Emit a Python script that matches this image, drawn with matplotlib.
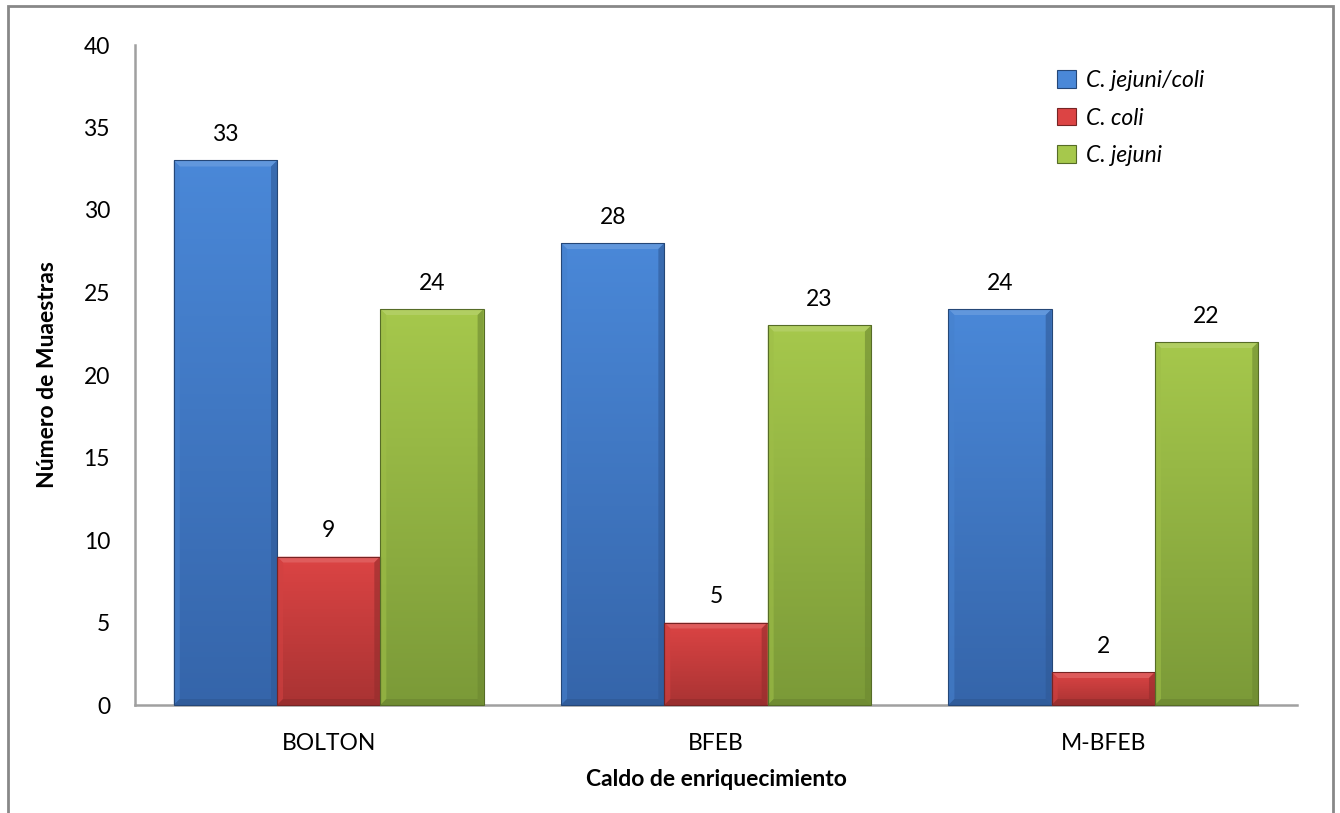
import numpy as np
import matplotlib
matplotlib.use("Agg")
import matplotlib.pyplot as plt
from matplotlib.patches import Polygon, Rectangle
from matplotlib.colors import LinearSegmentedColormap, to_rgb
from matplotlib.transforms import IdentityTransform

# Data
categories = ["BOLTON", "BFEB", "M-BFEB"]
series_names = ["C. jejuni/coli", "C. coli", "C. jejuni"]
jejuni_coli = [33, 28, 24]
coli = [9, 5, 2]
jejuni = [24, 23, 22]
y_ticks = [0, 5, 10, 15, 20, 25, 30, 35, 40]

series_values = [jejuni_coli, coli, jejuni]
# (top colour, bottom colour) for the vertical gradient of each series
series_colors = [("#4a88d8", "#3565aa"),
                 ("#dc4444", "#a93333"),
                 ("#a6c84c", "#7b9a38")]

plt.rcParams["font.family"] = ["Lato", "DejaVu Sans"]
FS = 16.5

fig = plt.figure(figsize=(13.4, 8.13), dpi=100)
ax = fig.add_axes([135 / 1340, 1 - 705 / 813, (1297 - 135) / 1340, (705 - 45) / 813])

n = len(series_values)
group_w = 0.8
bw = group_w / n
x = np.arange(len(categories))

ax.set_xlim(-0.5, len(categories) - 0.5)
ax.set_ylim(0, 40)

fig.canvas.draw()
to_px = ax.transData.transform


def shade(c, f):
    r, g, b = to_rgb(c)
    if f >= 0:
        return (r + (1 - r) * f, g + (1 - g) * f, b + (1 - b) * f)
    return (r * (1 + f), g * (1 + f), b * (1 + f))


for i, (vals, (ctop, cbot)) in enumerate(zip(series_values, series_colors)):
    offs = (i - (n - 1) / 2) * bw
    bars = ax.bar(x + offs, vals, width=bw, color=ctop, edgecolor="none",
                  label=series_names[i], zorder=2)
    cmap = LinearSegmentedColormap.from_list(f"g{i}", [cbot, ctop])
    grad = np.linspace(0, 1, 256).reshape(-1, 1)
    for rect, v in zip(bars, vals):
        x0 = rect.get_x()
        x1 = x0 + rect.get_width()
        im = ax.imshow(grad, cmap=cmap, aspect="auto", origin="lower",
                       extent=(x0, x1, 0, v), zorder=2.1, interpolation="bilinear")
        im.set_clip_path(rect)
        # bevelled edges, drawn in pixel space
        (px0, py0) = to_px((x0, 0))
        (px1, py1) = to_px((x1, v))
        b = 6
        top = Polygon([(px0, py1), (px1, py1), (px1 - b, py1 - b), (px0 + b, py1 - b)],
                      closed=True, transform=IdentityTransform(),
                      facecolor=shade(ctop, 0.22), edgecolor="none", zorder=2.2)
        left = Polygon([(px0, py1), (px0 + b, py1 - b), (px0 + b, py0 + b), (px0, py0)],
                       closed=True, transform=IdentityTransform(),
                       facecolor=shade(ctop, -0.05), edgecolor="none", zorder=2.2)
        right = Polygon([(px1, py1), (px1 - b, py1 - b), (px1 - b, py0 + b), (px1, py0)],
                        closed=True, transform=IdentityTransform(),
                        facecolor=shade(cbot, -0.12), edgecolor="none", zorder=2.2)
        bottom = Polygon([(px0, py0), (px1, py0), (px1 - b, py0 + b), (px0 + b, py0 + b)],
                         closed=True, transform=IdentityTransform(),
                         facecolor=shade(cbot, -0.15), edgecolor="none", zorder=2.2)
        for p in (top, left, right, bottom):
            p.set_alpha(0.6)
            fig.add_artist(p)
        edge = Rectangle((px0, py0), px1 - px0, py1 - py0, transform=IdentityTransform(),
                         facecolor="none", edgecolor=shade(cbot, -0.3), linewidth=0.8,
                         zorder=2.3)
        fig.add_artist(edge)
        ax.annotate(f"{v}", xy=(rect.get_x() + rect.get_width() / 2, v),
                    xytext=(0, 11), textcoords="offset points",
                    ha="center", va="bottom", fontsize=FS, color="black", zorder=4)

ax.set_yticks(y_ticks)
ax.set_xticks(x)
ax.set_xticklabels(categories)
ax.tick_params(axis="both", length=0, labelsize=FS)
ax.tick_params(axis="y", pad=18)
ax.tick_params(axis="x", pad=20)

for side in ("top", "right"):
    ax.spines[side].set_visible(False)
for side in ("left", "bottom"):
    ax.spines[side].set_color("#a0a0a0")
    ax.spines[side].set_linewidth(1.8)
    ax.spines[side].set_zorder(1)

ax.set_ylabel("Número de Muaestras", fontsize=FS, fontweight="bold", labelpad=18)
ax.set_xlabel("Caldo de enriquecimiento", fontsize=FS, fontweight="bold", labelpad=11)

leg = ax.legend(loc="upper left", bbox_to_anchor=(1048 / 1340, 1 - 61 / 813),
                bbox_transform=fig.transFigure, frameon=False,
                prop={"style": "italic", "size": FS},
                handlelength=0.8, handleheight=0.8, handletextpad=0.45,
                labelspacing=0.72, borderaxespad=0)
for h, (ctop, cbot) in zip(leg.legend_handles, series_colors):
    h.set_facecolor(ctop)
    h.set_edgecolor(shade(cbot, -0.3))
    h.set_linewidth(0.8)

# outer chart frame
frame = Rectangle((8 / 1340, -0.05), (1333 - 8) / 1340, 1.05 - 6 / 813,
                  transform=fig.transFigure, facecolor="none",
                  edgecolor="#888888", linewidth=2, clip_on=False)
fig.add_artist(frame)

fig.savefig("out.png", dpi=100)
